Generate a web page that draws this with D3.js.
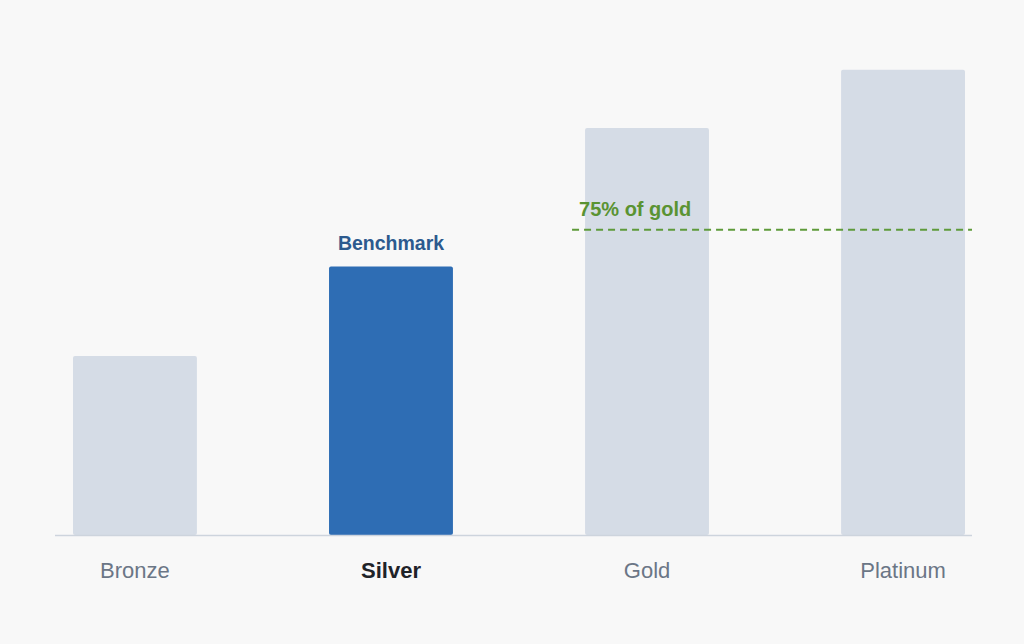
<!DOCTYPE html>
<html lang="en">
<head>
    <meta charset="UTF-8"/>
    <title>Tiers</title>
    <script src="https://d3js.org/d3.v7.min.js"></script>
    <style>
        body { margin: 0; background: #f8f8f8; font-family: "Liberation Sans", Arial, sans-serif; }
    </style>
</head>
<body>
<script>
    var w = 1024;
    var h = 644;

    // data
    var tiers = ["Bronze", "Silver", "Gold", "Platinum"];
    var values = [44, 66, 100, 114.3];
    var benchmarkTier = "Silver";
    var refTier = "Gold";
    var refShare = 0.75;

    var baseY = 535;

    var xScale = d3.scaleBand()
        .domain(tiers)
        .range([73, 965])
        .paddingInner(0.516)
        .paddingOuter(0);

    var yScale = d3.scaleLinear()
        .domain([0, 100])
        .range([baseY, 128]);

    var svg = d3.select("body")
        .append("svg")
        .attr("width", w)
        .attr("height", h);

    svg.append("rect")
        .attr("width", w)
        .attr("height", h)
        .attr("fill", "#f8f8f8");

    // bars
    svg.selectAll("rect.bar")
        .data(tiers)
        .enter()
        .append("rect")
        .attr("class", "bar")
        .attr("x", function(d) { return xScale(d); })
        .attr("y", function(d, i) { return yScale(values[i]); })
        .attr("width", xScale.bandwidth())
        .attr("height", function(d, i) { return baseY - yScale(values[i]); })
        .attr("rx", 2)
        .attr("fill", function(d) { return d === benchmarkTier ? "#2e6db4" : "#d5dce6"; });

    // baseline
    svg.append("line")
        .attr("x1", 55)
        .attr("x2", 972)
        .attr("y1", baseY + 0.5)
        .attr("y2", baseY + 0.5)
        .attr("stroke", "#cdd4dd")
        .attr("stroke-width", 1.5);

    // x labels
    var xAxis = d3.axisBottom(xScale).tickSize(0).tickPadding(0);
    var gx = svg.append("g")
        .attr("transform", "translate(0," + baseY + ")")
        .call(xAxis);
    gx.select(".domain").remove();
    gx.selectAll("text")
        .attr("y", 43)
        .attr("dy", 0)
        .attr("font-family", "Liberation Sans, Arial, sans-serif")
        .attr("font-size", 22)
        .attr("font-weight", function(d) { return d === benchmarkTier ? "bold" : "normal"; })
        .attr("fill", function(d) { return d === benchmarkTier ? "#1f2329" : "#6b7686"; });

    // benchmark label
    var bi = tiers.indexOf(benchmarkTier);
    svg.append("text")
        .attr("x", xScale(benchmarkTier) + xScale.bandwidth() / 2)
        .attr("y", yScale(values[bi]) - 16)
        .attr("text-anchor", "middle")
        .attr("font-size", 19.5)
        .attr("font-weight", "bold")
        .attr("fill", "#2c5a8e")
        .text("Benchmark");

    // reference line at 75% of gold
    var refVal = values[tiers.indexOf(refTier)] * refShare;
    svg.append("line")
        .attr("x1", xScale(refTier) - 13)
        .attr("x2", 972)
        .attr("y1", yScale(refVal))
        .attr("y2", yScale(refVal))
        .attr("stroke", "#5e9a3a")
        .attr("stroke-width", 2)
        .attr("stroke-dasharray", "7,5");

    svg.append("text")
        .attr("x", xScale(refTier) - 6)
        .attr("y", yScale(refVal) - 14)
        .attr("font-size", 20)
        .attr("font-weight", "bold")
        .attr("fill", "#5a9332")
        .text("75% of gold");
</script>
</body>
</html>
